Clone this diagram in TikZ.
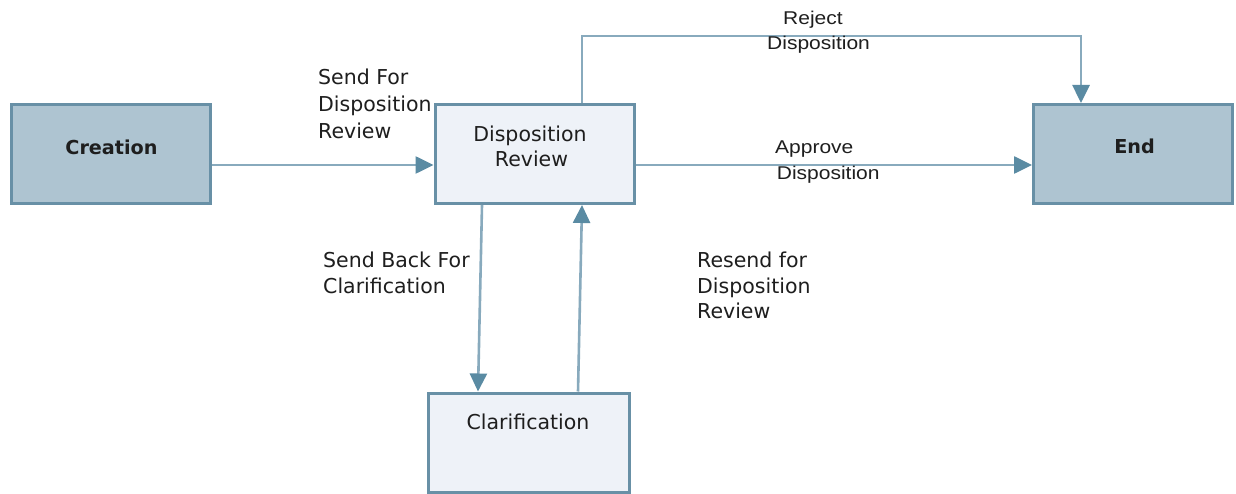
\documentclass[tikz,border=0pt]{standalone}
\usepackage{fontspec}
\usetikzlibrary{arrows.meta}
\newfontfamily\boxfont{DejaVu Sans}
\newfontfamily\lblfontA{DejaVu Sans}
\newfontfamily\lblfontB[FakeStretch=1.135]{Liberation Sans}
\definecolor{darkfill}{HTML}{AEC4D1}
\definecolor{lightfill}{HTML}{EEF2F8}
\definecolor{boxline}{HTML}{6890A6}
\definecolor{conn}{HTML}{88AABD}
\definecolor{tipc}{HTML}{5A8BA3}
\definecolor{txt}{HTML}{1E1E1E}
\begin{document}
\begin{tikzpicture}[x=1pt,y=-1pt,
  darkbox/.style={draw=boxline,fill=darkfill,line width=3pt,minimum width=199pt,minimum height=99pt,inner sep=0pt},
  lightbox/.style={darkbox,fill=lightfill},
  boxtext/.style={font=\boxfont\fontsize{20.5}{25}\selectfont,text=txt,anchor=base,inner sep=0pt},
  boldtext/.style={font=\boxfont\bfseries\fontsize{19.2}{24}\selectfont,text=txt,anchor=base,inner sep=0pt},
  lblA/.style={font=\lblfontA\fontsize{20.5}{26}\selectfont,text=txt,anchor=base west,inner sep=0pt},
  lblB/.style={font=\lblfontB\fontsize{18.5}{26}\selectfont,text=txt,anchor=base west,inner sep=0pt},
  flow/.style={draw=conn,line width=2.6pt,-{Triangle[length=18pt,width=17pt,color=tipc]}}
]
\useasboundingbox[fill=white] (0,0) rectangle (1236,494);

% boxes
\node[darkbox]  (creation) at (111,154)   {};
\node[lightbox] (dr)       at (534.5,154) {};
\node[darkbox]  (end)      at (1133,154)  {};
\node[lightbox, minimum width=201pt] (clar) at (529,442.5) {};

% box texts
\node[boldtext] (tcreation) at (111.5,155) {Creation};
\node[boldtext] (tend)      at (1134.5,154) {End};
\node[boxtext]  (tdr1)      at (530,142) {Disposition};
\node[boxtext]  (tdr2)      at (531.5,167) {Review};
\node[boxtext]  (tclar)     at (528,429) {Clarification};

% connectors
\draw[flow] ([yshift=-11pt]creation.east) -- ([yshift=-11pt]dr.west);
\draw[flow] ([yshift=-11pt]dr.east) -- ([yshift=-11pt]end.west);
\draw[flow] ([xshift=47.5pt]dr.north) -- ++(0,-67) -| ([xshift=-52pt]end.north);
\draw[flow] ([xshift=-52.5pt]dr.south) -- ([xshift=-51pt]clar.north);
\draw[flow] ([xshift=49pt]clar.north) -- ([xshift=47.5pt]dr.south);

% connector labels
\node[lblA] (ls1) at (318,85)    {Send For};
\node[lblA] (ls2) at (318,111.7) {Disposition};
\node[lblA] (ls3) at (318,138.3) {Review};

\node[lblB] (lr1) at (783,25) {Reject};
\node[lblB] (lr2) at (767,50) {Disposition};

\node[lblB] (la1) at (775,153.3) {Approve};
\node[lblB] (la2) at (776.7,180) {Disposition};

\node[lblA] (lb1) at (323,267) {Send Back For};
\node[lblA] (lb2) at (323,293) {Clarification};

\node[lblA] (le1) at (697,267) {Resend for};
\node[lblA] (le2) at (697,293) {Disposition};
\node[lblA] (le3) at (697,318) {Review};
\end{tikzpicture}
\end{document}
